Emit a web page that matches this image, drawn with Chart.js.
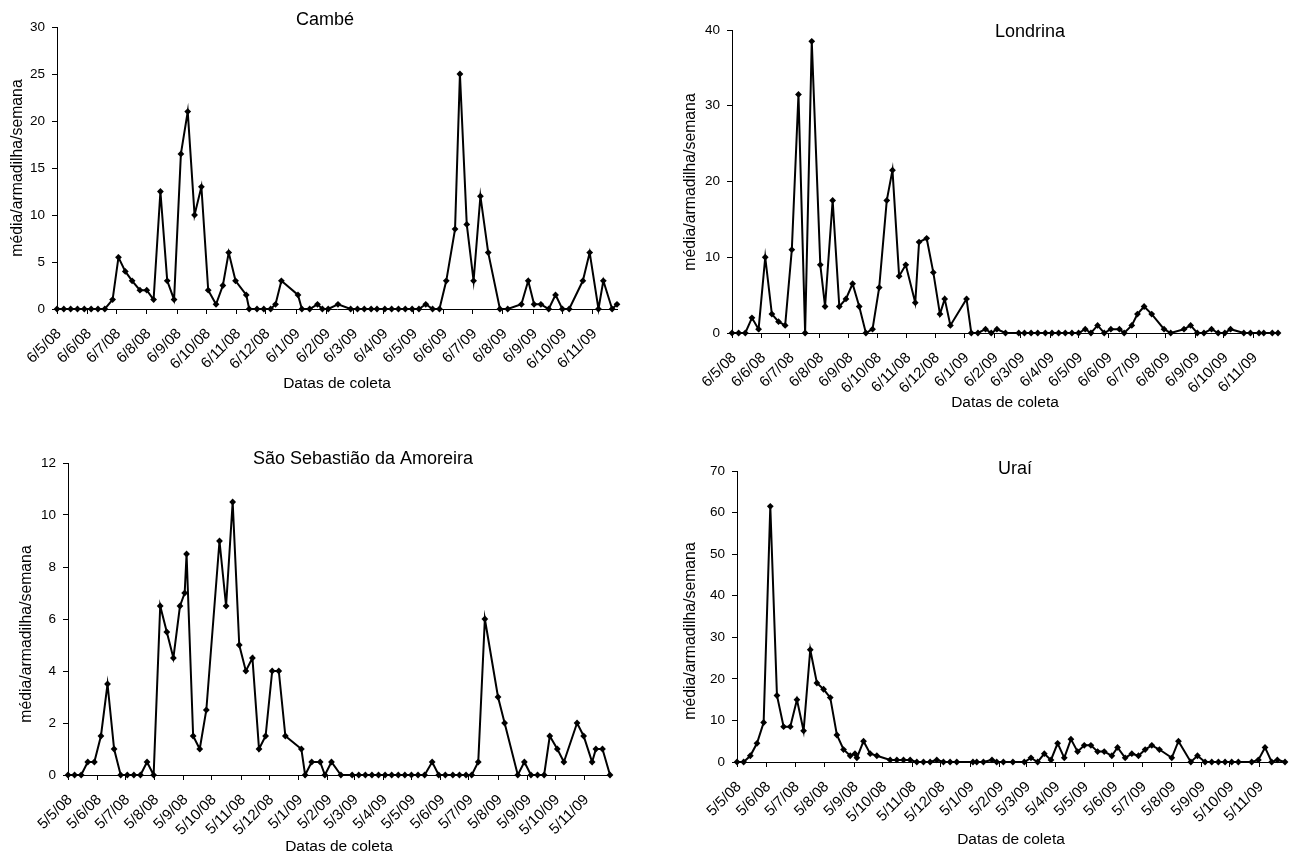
<!DOCTYPE html>
<html>
<head>
<meta charset="utf-8">
<script src="https://cdn.jsdelivr.net/npm/chart.js@4.4.1/dist/chart.umd.min.js"></script>
<style>
  html, body { margin: 0; padding: 0; background: #fff; }
  body { width: 1289px; height: 855px; position: relative; overflow: hidden; }
  canvas { position: absolute; }
</style>
</head>
<body>
<canvas id="c-cambe"></canvas>
<canvas id="c-londrina"></canvas>
<canvas id="c-ssa"></canvas>
<canvas id="c-urai"></canvas>
<script>
// ==================== DATA ====================
// x values = days after the first collection date (first tick label)
const cambeTicks = ['6/5/08', '6/6/08', '6/7/08', '6/8/08', '6/9/08', '6/10/08', '6/11/08', '6/12/08', '6/1/09', '6/2/09',
  '6/3/09', '6/4/09', '6/5/09', '6/6/09', '6/7/09', '6/8/09', '6/9/09', '6/10/09', '6/11/09'];
const cambeDays = [0, 7, 14, 21, 28, 35, 42, 49, 57, 63, 70, 77, 85, 92, 99, 106, 113, 120, 127, 134,
  141, 148, 155, 163, 170, 176, 183, 194, 197, 205, 212, 219, 224, 230, 247, 251, 259, 267, 272, 278,
  288, 301, 308, 315, 322, 328, 336, 343, 350, 357, 364, 371, 378, 385, 392, 399, 408, 413, 420, 427,
  434, 442, 454, 462, 476, 483, 489, 496, 504, 511, 518, 525, 539, 546, 555, 560, 569, 574];
const cambeVals = [0, 0, 0, 0, 0, 0, 0, 0, 1, 5.5, 4, 3, 2, 2, 1, 12.5, 3, 1, 16.5, 21,
  10, 13, 2, 0.5, 2.5, 6, 3, 1.5, 0, 0, 0, 0, 0.5, 3, 1.5, 0, 0, 0.5, 0, 0,
  0.5, 0, 0, 0, 0, 0, 0, 0, 0, 0, 0, 0, 0.5, 0, 0, 3, 8.5, 25, 9, 3,
  12, 6, 0, 0, 0.5, 3, 0.5, 0.5, 0, 1.5, 0, 0, 3, 6, 0, 3, 0, 0.5];

const londrinaTicks = cambeTicks;
const londrinaDays = [0, 7, 14, 21, 28, 35, 42, 49, 56, 63, 70, 77, 84, 93, 98, 106, 113, 120, 127, 134,
  141, 148, 155, 163, 169, 176, 183, 193, 197, 205, 212, 219, 224, 230, 247, 252, 259, 267, 273, 279,
  288, 302, 308, 315, 322, 330, 337, 344, 351, 358, 365, 372, 378, 385, 392, 399, 408, 413, 421, 427,
  434, 442, 455, 462, 476, 483, 490, 497, 505, 512, 519, 525, 539, 546, 555, 560, 569, 575];
const londrinaVals = [0, 0, 0, 2, 0.5, 10, 2.5, 1.5, 1, 11, 31.5, 0, 38.5, 9, 3.5, 17.5, 3.5, 4.5, 6.5, 3.5,
  0, 0.5, 6, 17.5, 21.5, 7.5, 9, 4, 12, 12.5, 8, 2.5, 4.5, 1, 4.5, 0, 0, 0.5, 0, 0.5,
  0, 0, 0, 0, 0, 0, 0, 0, 0, 0, 0, 0.5, 0, 1, 0, 0.5, 0.5, 0, 1, 2.5,
  3.5, 2.5, 0.5, 0, 0.5, 1, 0, 0, 0.5, 0, 0, 0.5, 0, 0, 0, 0, 0, 0];

const ssaTicks = ['5/5/08', '5/6/08', '5/7/08', '5/8/08', '5/9/08', '5/10/08', '5/11/08', '5/12/08', '5/1/09', '5/2/09',
  '5/3/09', '5/4/09', '5/5/09', '5/6/09', '5/7/09', '5/8/09', '5/9/09', '5/10/09', '5/11/09'];
const ssaDays = [0, 7, 14, 21, 28, 35, 42, 49, 56, 63, 70, 77, 84, 91, 98, 105, 112, 119, 124, 126,
  133, 140, 147, 161, 168, 175, 182, 189, 196, 203, 210, 217, 224, 231, 248, 252, 259, 268, 273, 280,
  290, 302, 309, 316, 323, 330, 337, 344, 351, 358, 365, 372, 379, 387, 394, 401, 409, 416, 423, 429,
  436, 443, 457, 464, 478, 485, 492, 499, 506, 512, 520, 527, 541, 548, 557, 561, 568, 576];
const ssaVals = [0, 0, 0, 0.5, 0.5, 1.5, 3.5, 1, 0, 0, 0, 0, 0.5, 0, 6.5, 5.5, 4.5, 6.5, 7, 8.5,
  1.5, 1, 2.5, 9, 6.5, 10.5, 5, 4, 4.5, 1, 1.5, 4, 4, 1.5, 1, 0, 0.5, 0.5, 0, 0.5,
  0, 0, 0, 0, 0, 0, 0, 0, 0, 0, 0, 0, 0, 0.5, 0, 0, 0, 0, 0, 0,
  0.5, 6, 3, 2, 0, 0.5, 0, 0, 0, 1.5, 1, 0.5, 2, 1.5, 0.5, 1, 1, 0];

const uraiTicks = ssaTicks;
const uraiDays = [0, 7, 14, 21, 28, 35, 42, 49, 56, 63, 70, 77, 84, 91, 98, 105, 112, 119, 124, 126,
  133, 140, 147, 161, 168, 175, 182, 189, 196, 203, 210, 217, 224, 231, 248, 252, 259, 268, 273, 280,
  290, 302, 309, 316, 323, 330, 337, 344, 351, 358, 365, 372, 379, 386, 394, 400, 408, 415, 422, 429,
  436, 444, 457, 464, 477, 484, 492, 499, 506, 513, 520, 527, 541, 548, 555, 562, 568, 576];
const uraiVals = [0, 0, 1.5, 4.5, 9.5, 61.5, 16, 8.5, 8.5, 15, 7.5, 27, 19, 17.5, 15.5, 6.5, 3, 1.5, 2, 1,
  5, 2, 1.5, 0.5, 0.5, 0.5, 0.5, 0, 0, 0, 0.5, 0, 0, 0, 0, 0, 0, 0.5, 0, 0,
  0, 0, 1, 0, 2, 0.5, 4.5, 1, 5.5, 2.5, 4, 4, 2.5, 2.5, 1.5, 3.5, 1, 2, 1.5, 3,
  4, 3, 1, 5, 0, 1.5, 0, 0, 0, 0, 0, 0, 0, 0.5, 3.5, 0, 0.5, 0];

const yTitle = 'média/armadilha/semana';
const xTitle = 'Datas de coleta';

// ==================== HELPERS ====================
const FONT = 'Arial, "Liberation Sans", sans-serif';

function dayNum(label) {
  const [d, m, y] = label.split('/').map(Number);
  return Date.UTC(2000 + y, m - 1, d) / 864e5;
}

// draws panel title and axis titles at fixed page positions
const panelText = {
  id: 'panelText',
  afterDraw(chart, args, o) {
    const ctx = chart.ctx;
    ctx.save();
    ctx.fillStyle = '#000';
    ctx.textAlign = 'center';
    ctx.textBaseline = 'middle';
    ctx.font = `18px ${FONT}`;
    ctx.fillText(o.title, o.titlePos[0] - o.left, o.titlePos[1] - o.top);
    ctx.font = `15.5px ${FONT}`;
    ctx.fillText(xTitle, o.xPos[0] - o.left, o.xPos[1] - o.top);
    ctx.translate(o.yPos[0] - o.left, o.yPos[1] - o.top);
    ctx.rotate(-Math.PI / 2);
    ctx.font = `15.8px ${FONT}`;
    ctx.fillText(yTitle, 0, 0);
    ctx.restore();
  },
};

function panel(id, p) {
  const el = document.getElementById(id);
  el.width = p.w;
  el.height = p.h;
  el.style.left = p.left + 'px';
  el.style.top = p.top + 'px';
  el.style.width = p.w + 'px';
  el.style.height = p.h + 'px';

  const t0 = dayNum(p.ticks[0]);
  const tickDays = p.ticks.map((t) => dayNum(t) - t0);
  const lastDay = p.days[p.days.length - 1];

  return new Chart(el, {
    type: 'line',
    data: {
      datasets: [
        {
          data: p.days.map((x, i) => ({ x, y: p.vals[i] })),
          borderColor: '#000',
          borderWidth: 2,
          tension: 0,
          pointStyle: 'rectRot',
          pointRadius: 3.4,
          pointBackgroundColor: '#000',
          pointBorderColor: '#000',
          pointBorderWidth: 0,
          clip: false,
        },
      ],
    },
    options: {
      responsive: false,
      animation: false,
      devicePixelRatio: 1,
      layout: { padding: { left: 0, top: p.padTop, right: p.padRight, bottom: 0 } },
      plugins: {
        legend: { display: false },
        tooltip: { enabled: false },
        panelText: {
          title: p.title, titlePos: p.titlePos, xPos: p.xPos, yPos: p.yPos,
          left: p.left, top: p.top,
        },
      },
      scales: {
        x: {
          type: 'linear',
          min: 0,
          max: lastDay,
          afterBuildTicks: (s) => { s.ticks = tickDays.map((v) => ({ value: v })); },
          afterFit: (s) => { s.height = p.xH; },
          ticks: {
            autoSkip: false,
            maxRotation: 45,
            minRotation: 45,
            padding: 11,
            labelOffset: 2,
            color: '#000',
            font: { family: FONT, size: 15 },
            callback: (v, i) => p.ticks[i],
          },
          grid: { drawOnChartArea: false, color: '#000', tickLength: 5 },
          border: { color: '#000', width: 1 },
        },
        y: {
          min: 0,
          max: p.yMax,
          afterFit: (s) => { s.width = p.yW; },
          ticks: {
            stepSize: p.step,
            padding: 7,
            color: '#000',
            font: { family: FONT, size: 13.5 },
          },
          grid: { drawOnChartArea: false, color: '#000', tickLength: 5 },
          border: { color: '#000', width: 1 },
        },
      },
    },
    plugins: [panelText],
  });
}

panel('c-cambe', {
  left: 0, top: 0, w: 640, h: 420, yW: 57, padTop: 27, padRight: 23, xH: 111,
  ticks: cambeTicks, days: cambeDays, vals: cambeVals, yMax: 30, step: 5,
  title: 'Cambé', titlePos: [325, 20], xPos: [337, 384], yPos: [18, 168],
});
panel('c-londrina', {
  left: 645, top: 0, w: 644, h: 420, yW: 87, padTop: 30, padRight: 11, xH: 87,
  ticks: londrinaTicks, days: londrinaDays, vals: londrinaVals, yMax: 40, step: 10,
  title: 'Londrina', titlePos: [1030, 32], xPos: [1005, 403], yPos: [691, 182],
});
panel('c-ssa', {
  left: 0, top: 420, w: 640, h: 435, yW: 68, padTop: 43, padRight: 30, xH: 80,
  ticks: ssaTicks, days: ssaDays, vals: ssaVals, yMax: 12, step: 2,
  title: 'São Sebastião da Amoreira', titlePos: [363, 459], xPos: [339, 847], yPos: [27, 634],
});
panel('c-urai', {
  left: 645, top: 420, w: 644, h: 435, yW: 92, padTop: 51, padRight: 4, xH: 93,
  ticks: uraiTicks, days: uraiDays, vals: uraiVals, yMax: 70, step: 10,
  title: 'Uraí', titlePos: [1015, 469], xPos: [1011, 840], yPos: [691, 631],
});
</script>
</body>
</html>
